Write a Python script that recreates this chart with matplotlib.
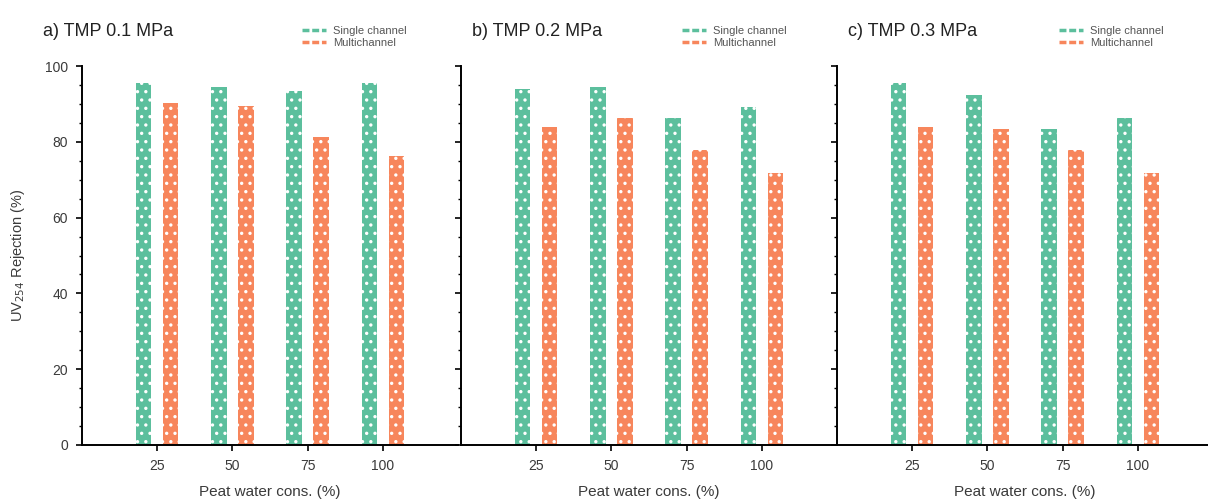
import numpy as np
import matplotlib
matplotlib.use("Agg")
from matplotlib import pyplot as plt
from matplotlib.lines import Line2D
from matplotlib.ticker import MultipleLocator

plt.rcParams['font.family'] = ['Liberation Sans', 'DejaVu Sans']
plt.rcParams['hatch.linewidth'] = 1.2

# data
concentrations = ['25', '50', '75', '100']
panel_titles = ['a) TMP 0.1 MPa', 'b) TMP 0.2 MPa', 'c) TMP 0.3 MPa']
single_channel = [
    [95.4, 94.5, 93.4, 95.4],
    [93.8, 94.4, 86.2, 89.3],
    [95.4, 92.3, 83.3, 86.2],
]
multichannel = [
    [90.2, 89.4, 81.2, 76.3],
    [84.0, 86.2, 77.8, 71.7],
    [84.0, 83.3, 77.8, 71.7],
]
series_names = ['Single channel', 'Multichannel']

green = '#5cbf9d'
orange = '#f7865c'
text_color = '#3a3a3a'

fig = plt.figure(figsize=(12.08, 5.0), dpi=100)
W, H = 1208, 500

lefts = [82, 461, 837]
title_x = [43, 472, 848]
legend_x = [296, 676, 1053]
ax_w = 376
ax_bottom, ax_top = 445, 66

x = np.arange(1, len(concentrations) + 1)
width = 0.205
offset = 0.18

for i in range(3):
    ax = fig.add_axes([lefts[i] / W, 1 - ax_bottom / H, ax_w / W, (ax_bottom - ax_top) / H])
    ax.bar(x - offset, single_channel[i], width, color=green, edgecolor='white',
           linewidth=0, hatch='..')
    ax.bar(x + offset, multichannel[i], width, color=orange, edgecolor='white',
           linewidth=0, hatch='..')

    ax.set_xlim(0, 5)
    ax.set_ylim(0, 100)
    ax.set_xticks(x, concentrations)
    ax.yaxis.set_major_locator(MultipleLocator(20))
    ax.yaxis.set_minor_locator(MultipleLocator(5))
    ax.spines['top'].set_visible(False)
    ax.spines['right'].set_visible(False)
    ax.spines['left'].set_linewidth(1.4)
    ax.spines['bottom'].set_linewidth(1.4)
    ax.tick_params(axis='both', which='major', direction='out', length=4, width=1.2,
                   labelsize=10, labelcolor=text_color, pad=6)
    ax.tick_params(axis='y', which='minor', direction='out', length=2.5, width=1.0)
    ax.tick_params(axis='x', which='minor', length=0)
    if i > 0:
        ax.tick_params(axis='y', labelleft=False)
    ax.set_xlabel('Peat water cons. (%)', fontsize=11, color=text_color, labelpad=9)

    fig.text(title_x[i] / W, 1 - 31 / H, panel_titles[i], fontsize=13,
             color='#222222', va='center', ha='left')

    handles = [Line2D([], [], color=green, lw=2.5, ls=(0, (2, 0.8))),
               Line2D([], [], color=orange, lw=2.5, ls=(0, (2, 0.8)))]
    fig.legend(handles, series_names, loc='upper left',
               bbox_to_anchor=(legend_x[i] / W, 1 - 20 / H), frameon=False,
               fontsize=8, handlelength=2.2, handletextpad=0.6,
               labelspacing=0.2, borderpad=0, labelcolor='#555555')

fig.text(18 / W, 1 - 255 / H, 'UV$_{254}$ Rejection (%)', rotation=90, fontsize=10.5,
         color=text_color, va='center', ha='center')

fig.savefig('out.png', dpi=100, facecolor='white')
